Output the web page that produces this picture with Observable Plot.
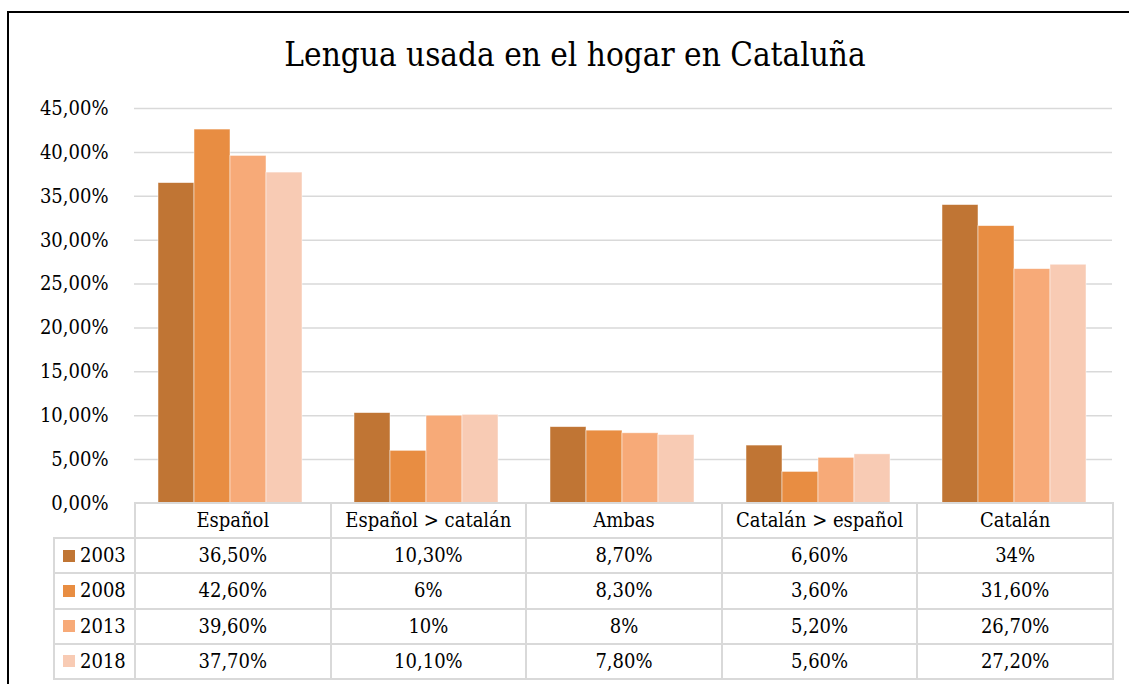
<!DOCTYPE html>
<html><head><meta charset="utf-8">
<script src="https://cdn.jsdelivr.net/npm/d3@7"></script>
<script src="https://cdn.jsdelivr.net/npm/@observablehq/plot@0.6"></script>
<style>
html,body{margin:0;padding:0;background:#fff;overflow:hidden;}
body{font-family:"DejaVu Serif Condensed","DejaVu Serif";color:#000;}
#wrap{position:relative;width:1129px;height:684px;overflow:hidden;background:#fff;}
#frame{position:absolute;left:7px;top:11px;width:1140px;height:700px;border:2px solid #000;box-sizing:border-box;}
#title{position:absolute;left:0;top:36px;width:1150px;text-align:center;font-size:33px;line-height:38px;}
.layer{position:absolute;left:0;top:0;}
#tbl{position:absolute;left:53px;top:502px;border-collapse:collapse;table-layout:fixed;font-size:20px;line-height:23px;}
#tbl td{border:2px solid #d9d9d9;text-align:center;padding:0;}
#tbl tr{height:35.2px;}
#tbl td.corner{border-top:none;border-left:none;}
#tbl td.key{text-align:left;}
.keyin{display:flex;align-items:center;padding-left:8px;}
.sw{display:inline-block;width:12px;height:12px;margin-right:5px;}
</style>
</head><body>
<div id="wrap">
  <div id="frame"></div>
  <div id="title">Lengua usada en el hogar en Cataluña</div>
  <div id="bg" class="layer"></div>
  <div id="fg" class="layer"></div>
  <table id="tbl"></table>
</div>
<script>
const categories = ["Español", "Español > catalán", "Ambas", "Catalán > español", "Catalán"];
const years = ["2003", "2008", "2013", "2018"];
const colors = ["#C07534", "#E88D42", "#F7AA78", "#F8CBB4"];
const v2003 = [36.5, 10.3, 8.7, 6.6, 34];
const v2008 = [42.6, 6, 8.3, 3.6, 31.6];
const v2013 = [39.6, 10, 8, 5.2, 26.7];
const v2018 = [37.7, 10.1, 7.8, 5.6, 27.2];
const yTicks = [0, 5, 10, 15, 20, 25, 30, 35, 40, 45];

const series = {"2003": v2003, "2008": v2008, "2013": v2013, "2018": v2018};
const data = [];
categories.forEach((c, i) => years.forEach(y => data.push({cat: c, year: y, value: series[y][i]})));

const tickFmt = d => d.toFixed(2).replace(".", ",") + "%";
const cellFmt = v => Number.isInteger(v) ? v + "%" : v.toFixed(2).replace(".", ",") + "%";

const W = 1129, H = 505;
const common = {width: W, height: H, marginLeft: 134, marginRight: 17, marginTop: 108, marginBottom: 2};
const font = {fontFamily: "'DejaVu Serif Condensed','DejaVu Serif'", fontSize: "20px", color: "#000", background: "transparent", overflow: "visible"};

const bg = Plot.plot({
  ...common,
  style: font,
  y: {domain: [0, 45]},
  marks: [
    Plot.ruleY(yTicks.filter(d => d > 0), {stroke: "#d9d9d9", strokeWidth: 1.5}),
    Plot.axisY(yTicks, {tickSize: 0, tickPadding: 26, tickFormat: tickFmt, label: null, fill: "#000"})
  ]
});
document.getElementById("bg").appendChild(bg);

const fg = Plot.plot({
  ...common,
  marginLeft: 131, marginRight: 17,
  style: font,
  fx: {domain: categories, paddingInner: 0.26, paddingOuter: 0.13, axis: null, label: null},
  x: {domain: years, padding: 0, axis: null},
  y: {domain: [0, 45], axis: null},
  color: {domain: years, range: colors},
  marks: [
    Plot.barY(data, {fx: "cat", x: "year", y: "value", fill: "year", stroke: "#fff", strokeWidth: 0.8, strokeOpacity: 0.6})
  ]
});
document.getElementById("fg").appendChild(fg);

// data table
const tbl = document.getElementById("tbl");
const cg = document.createElement("colgroup");
const c0 = document.createElement("col"); c0.style.width = "81px"; cg.appendChild(c0);
categories.forEach(() => { const c = document.createElement("col"); c.style.width = "195.6px"; cg.appendChild(c); });
tbl.appendChild(cg);
const hr = document.createElement("tr");
const corner = document.createElement("td"); corner.className = "corner"; hr.appendChild(corner);
categories.forEach(c => { const td = document.createElement("td"); td.textContent = c; hr.appendChild(td); });
tbl.appendChild(hr);
years.forEach((y, yi) => {
  const tr = document.createElement("tr");
  const k = document.createElement("td"); k.className = "key";
  k.innerHTML = `<div class="keyin"><span class="sw" style="background:${colors[yi]}"></span><span>${y}</span></div>`;
  tr.appendChild(k);
  series[y].forEach(v => { const td = document.createElement("td"); td.textContent = cellFmt(v); tr.appendChild(td); });
  tbl.appendChild(tr);
});
</script>
</body></html>
